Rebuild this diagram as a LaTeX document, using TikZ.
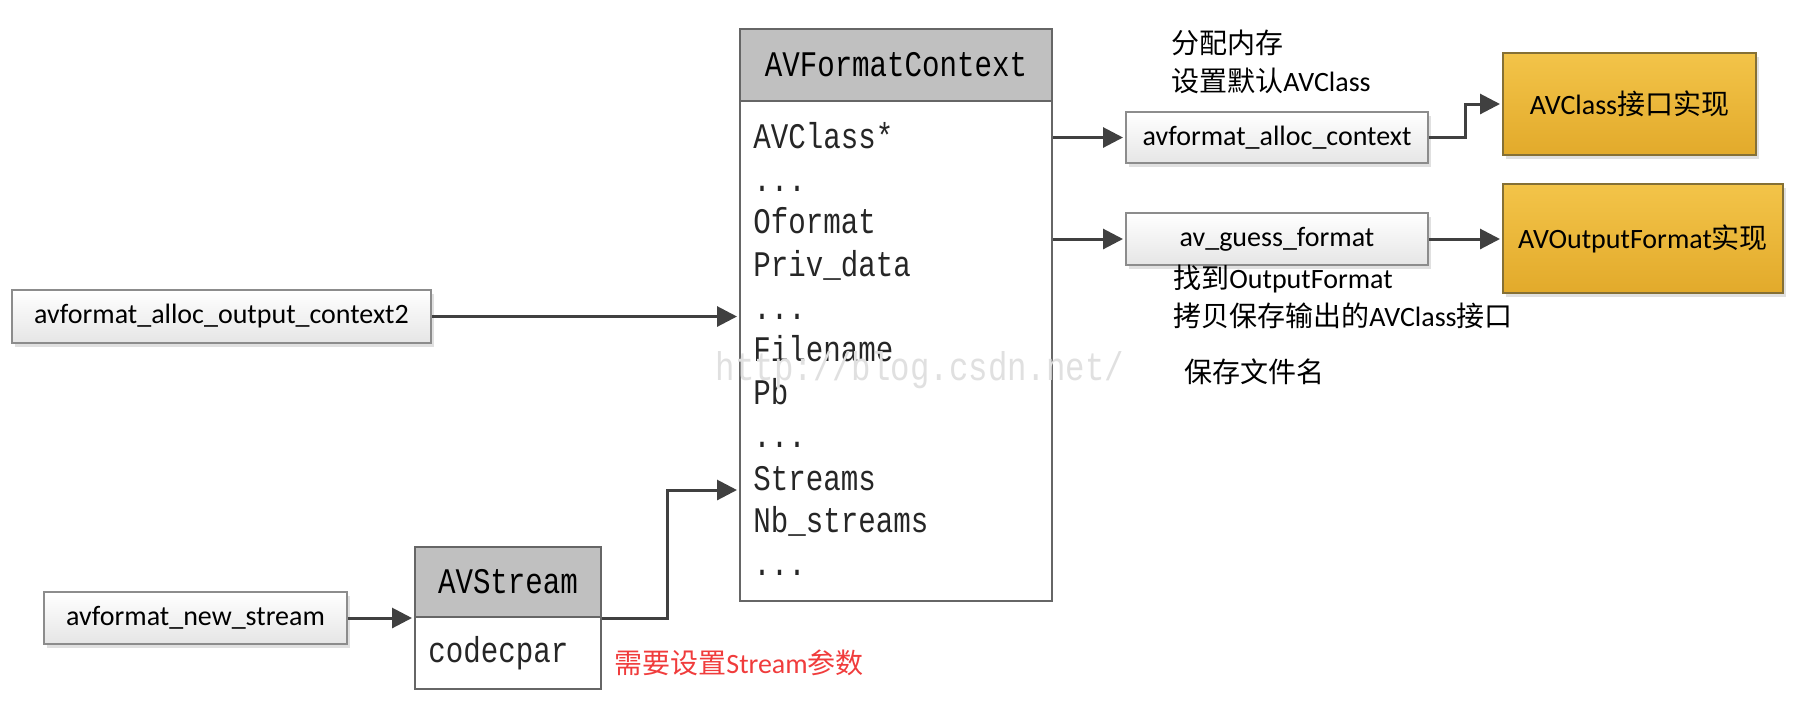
\documentclass[tikz,border=0pt]{standalone}
\usepackage{fontspec}
\setmainfont{Carlito}
\newfontfamily\cjk{Noto Sans CJK SC}
\newfontfamily\fieldfont[FakeStretch=0.81]{Liberation Mono}
\usetikzlibrary{arrows.meta,shadows}
\definecolor{linegray}{HTML}{404040}
\definecolor{boxgray}{HTML}{C0C0C0}
\definecolor{goldtop}{HTML}{F3C449}
\definecolor{goldbot}{HTML}{E2AA2B}
\definecolor{goldline}{HTML}{857035}
\definecolor{notered}{HTML}{F03C3C}

\begin{document}
\begin{tikzpicture}[x=0.5pt,y=-0.5pt,shorten >=1pt,>={Triangle[length=10pt,width=10pt]}]
        \tikzstyle{head}=[rectangle,draw=black!60,line width=1pt,fill=boxgray,minimum width=156pt,inner sep=0pt,font=\fontsize{18}{20}\selectfont\fieldfont]
        \tikzstyle{body}=[rectangle,draw=black!60,line width=1pt,fill=white,minimum width=156pt,inner sep=0pt]
        \tikzstyle{field}=[anchor=base west,inner sep=0pt,text=black!85,font=\fontsize{18}{20}\selectfont\fieldfont]
        \tikzstyle{call}=[rectangle,draw=black!45,line width=1pt,top color=white,bottom color=black!10,inner sep=0pt,font=\fontsize{14}{16}\selectfont,drop shadow={shadow xshift=1.5pt,shadow yshift=-2pt,fill=black!30,opacity=0.4}]
        \tikzstyle{impl}=[rectangle,draw=goldline,line width=1pt,top color=goldtop,bottom color=goldbot,inner sep=0pt,font=\fontsize{14}{16}\selectfont,drop shadow={shadow xshift=1.5pt,shadow yshift=-2pt,fill=black!30,opacity=0.4}]
        \tikzstyle{note}=[align=left,inner sep=0pt,font=\fontsize{14}{19}\selectfont]
        \tikzstyle{link}=[draw=linegray,line width=1.5pt,->]

       \useasboundingbox (0,0) rectangle (1820,720);

       \begin{scope}

         \node [head,minimum height=36pt] (ctxhead) at (896,65) {AVFormatContext};
         \node [body,minimum height=250pt] (ctxbody) at (896,351) {};
         \node [field] (f0) at (753,148) {AVClass*};
         \node [field] (f1) at (753,191) {...};
         \node [field] (f2) at (753,233) {Oformat};
         \node [field] (f3) at (753,276) {Priv\_data};
         \node [field] (f4) at (753,319) {...};
         \node [field] (f5) at (753,361) {Filename};
         \node [field] (f6) at (753,404) {Pb};
         \node [field] (f7) at (753,447) {...};
         \node [field] (f8) at (753,490) {Streams};
         \node [field] (f9) at (753,532) {Nb\_streams};
         \node [field] (f10) at (753,575) {...};

         \node [head,minimum width=93pt,minimum height=35pt] (streamhead) at (508,582) {AVStream};
         \node [body,minimum width=93pt,minimum height=36pt] (streambody) at (508,653) {};
         \node [field] (c0) at (428,662) {codecpar};

         \node [call,minimum width=209.5pt,minimum height=26.5pt] (alloc2) at (221.5,316.5) {avformat\_alloc\_output\_context2};
         \node [call,minimum width=151pt,minimum height=25.5pt] (alloc) at (1277,137.5) {avformat\_alloc\_context};
         \node [call,minimum width=151pt,minimum height=26pt] (guess) at (1277,239) {av\_guess\_format};
         \node [call,minimum width=151.5pt,minimum height=26pt] (newstream) at (195.5,618) {avformat\_new\_stream};

         \node [impl,minimum width=126.5pt,minimum height=51pt] (avclass) at (1629.5,104) {AVClass{\cjk 接口实现}};
         \node [impl,minimum width=140pt,minimum height=54.5pt] (avout) at (1643,238.5) {AVOutputFormat{\cjk 实现}};

         \node [note,anchor=west] (n0) at (1171,62) {{\cjk 分配内存}\\{\cjk 设置默认}AVClass};
         \node [note,anchor=west] (n1) at (1173,297) {{\cjk 找到}OutputFormat\\{\cjk 拷贝保存输出的}AVClass{\cjk 接口}};
         \node [note,anchor=west] (n2) at (1184,372) {{\cjk 保存文件名}};
         \node [note,anchor=west,text=notered] (n3) at (614,663) {{\cjk 需要设置}Stream{\cjk 参数}};

         \path[link] (alloc2) -- (alloc2 -| ctxbody.west);
         \path[link] (alloc -| ctxbody.east) -- (alloc);
         \path[link] (guess -| ctxbody.east) -- (guess);
         \path[link] (alloc.east) -- ++(36,0) |- (avclass.west);
         \path[link] (guess.east) -- (guess.east -| avout.west);
         \path[link] (newstream) -- (newstream -| streamhead.west);
         \path[link] (streamhead.south east) -- ++(65,0) |- (ctxbody.west |- f8.base);

         \node [text=black!12,font=\fontsize{20}{22}\selectfont\fieldfont] (mark) at (920,370) {http://blog.csdn.net/};

       \end{scope}
\end{tikzpicture}
\end{document}
